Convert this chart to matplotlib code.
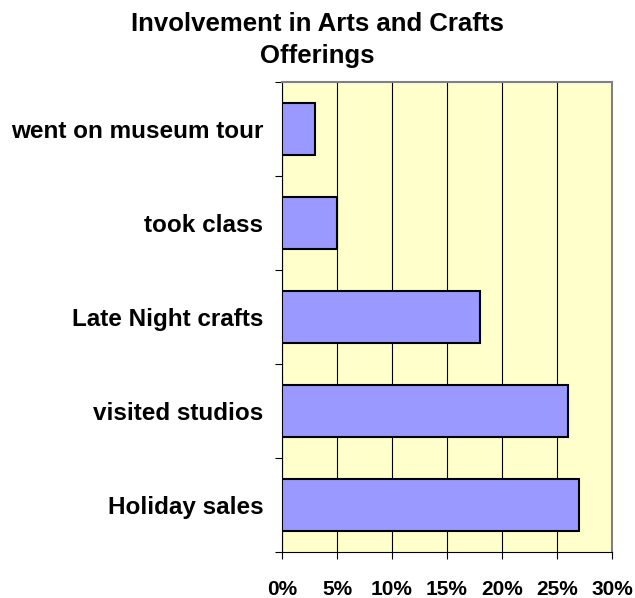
import numpy as np
import matplotlib.pyplot as plt
from matplotlib.ticker import FixedLocator, PercentFormatter

plt.rcParams['font.family'] = ['Liberation Sans', 'DejaVu Sans']

# categories listed top to bottom, as in the chart
activities = ['went on museum tour', 'took class', 'Late Night crafts',
              'visited studios', 'Holiday sales']
shares = [3, 5, 18, 26, 27]  # percent
x_ticks = [0, 5, 10, 15, 20, 25, 30]

fig = plt.figure(figsize=(6.35, 5.98), dpi=100)
ax = fig.add_axes([282 / 635, 1 - 552 / 598, 330 / 635, 470 / 598])

pos = np.arange(len(activities))
ax.barh(pos, shares, height=0.56, color='#9999FF', edgecolor='black',
        linewidth=1.5, zorder=3)

ax.set_facecolor('#FFFFCC')
ax.set_xlim(0, 30)
ax.set_ylim(len(activities) - 0.5, -0.5)

ax.set_xticks(x_ticks)
ax.xaxis.set_major_formatter(PercentFormatter(decimals=0))
ax.grid(axis='x', color='black', linewidth=0.8, zorder=1)

# y tick marks sit between categories, labels at the centres
ax.yaxis.set_major_locator(FixedLocator(np.arange(len(activities) + 1) - 0.5))
ax.yaxis.set_major_formatter(plt.NullFormatter())
ax.yaxis.set_minor_locator(FixedLocator(pos))
ax.set_yticklabels(activities, minor=True)
ax.tick_params(axis='y', which='major', length=5, width=0.8)
ax.tick_params(axis='y', which='minor', length=0, pad=13.5, labelsize=17.5)
ax.tick_params(axis='x', length=5, width=0.8, pad=15, labelsize=15)
for lab in ax.get_yticklabels(minor=True) + ax.get_xticklabels():
    lab.set_fontweight('bold')

for side in ['top', 'right']:
    ax.spines[side].set_color('#808080')
    ax.spines[side].set_linewidth(1.5)
for side in ['left', 'bottom']:
    ax.spines[side].set_color('black')
    ax.spines[side].set_linewidth(0.8)

fig.text(0.5, 1 - 40 / 598, 'Involvement in Arts and Crafts\nOfferings',
         ha='center', va='center', fontsize=18.5, fontweight='bold',
         linespacing=1.45)

fig.savefig('out.png', dpi=100)
